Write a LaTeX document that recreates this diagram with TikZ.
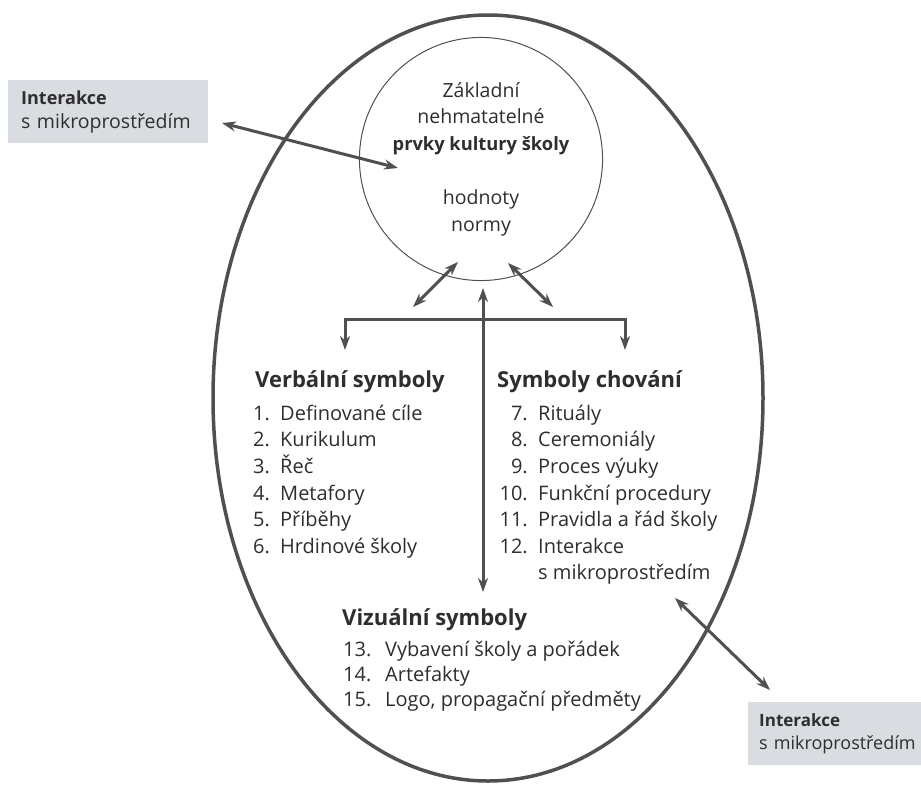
\documentclass[tikz,border=0pt]{standalone}
\usepackage{fontspec}
\setmainfont{Open Sans}
\usetikzlibrary{arrows.meta}
\definecolor{gris_trait}{HTML}{505050}
\definecolor{gris_texte}{HTML}{2E2E2E}
\definecolor{gris_boite}{HTML}{D9DCE0}

\tikzset{
  titre/.style={anchor=base west, inner sep=0pt, font=\fontsize{22}{26}\selectfont\bfseries, text=gris_texte},
  liste/.style={anchor=base west, inner sep=0pt, font=\fontsize{20}{26}\selectfont, text=gris_texte},
  numero/.style={liste},
  boite/.style={fill=gris_boite, anchor=north west, minimum height=63pt, text width=174pt,
    inner xsep=13pt, align=left, font=\fontsize{19.5}{24}\selectfont, text=gris_texte},
  fleche/.style={<->, gris_trait, line width=3pt}
}

\begin{document}
\begin{tikzpicture}[x=1pt,y=-1pt,>={Stealth[length=14pt,width=10pt]}]

        % Cadre de l'image
        \clip (0,0) rectangle (921,787);
        \fill[white] (0,0) rectangle (921,787);

        % Grande ellipse et noyau
        \draw[gris_trait, line width=3.5pt] (488,398) ellipse [x radius=275, y radius=383];
        \node[draw=gris_trait, line width=1pt, circle, minimum size=240pt, align=center,
              font=\fontsize{19.5}{26.5}\selectfont, text=gris_texte] (noyau) at (481,159)
              {Základní\\nehmatatelné\\{\fontsize{18.3}{26.5}\selectfont\bfseries prvky kultury školy}\\[28pt]hodnoty\\normy};

        % Boites d'interaction
        \node[boite] (interHaut) at (8,80) {{\fontsize{18}{24}\selectfont\bfseries Interakce}\\s mikroprostředím};
        \node[boite, inner xsep=11pt, text width=180pt, font=\fontsize{18}{23}\selectfont] (interBas) at (748,702)
              {{\fontsize{17}{23}\selectfont\bfseries Interakce}\\s mikroprostředím};

        % Titres des trois groupes
        \node[titre] (verbal) at (255,387) {Verbální symboly};
        \node[titre] (chovani) at (497,387) {Symboly chování};
        \node[titre] (vizual) at (342,625) {Vizuální symboly};

        % Listes
        \foreach \t [count=\i] in {Definované cíle, Kurikulum, Řeč, Metafory, Příběhy, Hrdinové školy} {
          \node[numero] at (253,{420+26.7*(\i-1)}) {\i.};
          \node[liste] at (280,{420+26.7*(\i-1)}) {\t};
        }
        \foreach \t [count=\i from 7] in {Rituály, Ceremoniály, Proces výuky, Funkční procedury, Pravidla a řád školy, Interakce} {
          \node[numero, anchor=base east] at (528,{420+26.7*(\i-7)}) {\i.};
          \node[liste] at (538,{420+26.7*(\i-7)}) {\t};
        }
        \node[liste] at (538,579) {s mikroprostředím};
        \foreach \t [count=\i from 13] in {Vybavení školy a pořádek, Artefakty, {Logo, propagační předměty}} {
          \node[numero] at (343,{656+25*(\i-13)}) {\i.};
          \node[liste] at (385,{656+25*(\i-13)}) {\t};
        }

        % Points d'arrivée des fleches
        \coordinate (A1) at (222,123);
        \coordinate (A2) at (398,168);
        \coordinate (B1) at (413,307);
        \coordinate (B2) at (458,262);
        \coordinate (C1) at (508,263);
        \coordinate (C2) at (553,307);
        \coordinate (D1) at (483,288);
        \coordinate (D2) at (483,592);
        \coordinate (E1) at (675,598);
        \coordinate (E2) at (770,690);
        \coordinate (G) at (345,319);
        \coordinate (H) at (625,319);

        % Fleches
        \draw[fleche] (A1) -- (A2);
        \draw[fleche] (B1) -- (B2);
        \draw[fleche] (C1) -- (C2);
        \draw[fleche] (D1) -- (D2);
        \draw[fleche] (E1) -- (E2);
        \draw[gris_trait, line width=3pt] (G) -- (H);
        \draw[gris_trait, line width=3pt, ->, shorten >=20pt] ([yshift=1.5pt]G) -- (G |- verbal.north);
        \draw[gris_trait, line width=3pt, ->, shorten >=20pt] ([yshift=1.5pt]H) -- (H |- chovani.north);
    \end{tikzpicture}
\end{document}
